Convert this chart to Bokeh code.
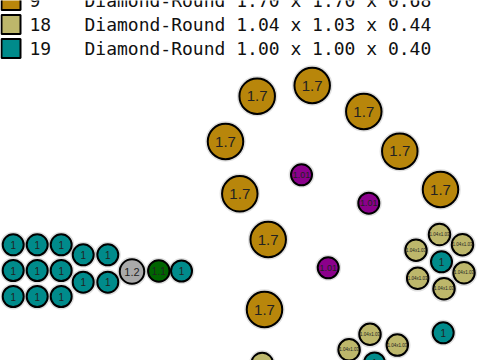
from bokeh.plotting import figure
from bokeh.models import Range1d, ColumnDataSource
from bokeh.core.properties import value
from bokeh.embed import file_html
from bokeh.resources import INLINE

# ---- legend data ----
legend_ids = ["9", "18", "19"]
legend_desc = ["Diamond-Round 1.70 x 1.70 x 0.68",
               "Diamond-Round 1.04 x 1.03 x 0.44",
               "Diamond-Round 1.00 x 1.00 x 0.40"]
legend_colors = ["#B8860B", "#BDB76B", "#008B8B"]

# ---- circle data (positions in layout pixels of the view) ----
teal_x = [12.7, 36.7, 60.7, 12.7, 36.7, 60.7, 12.7, 36.7, 60.7,
          82.7, 107.3, 82.7, 107.3, 181.0, 441.0, 442.7, 374.0]
teal_y = [244.3, 244.3, 244.3, 270.0, 270.0, 270.0, 296.0, 296.0, 296.0,
          254.3, 254.3, 281.7, 281.7, 270.5, 261.3, 332.3, 362.5]
teal_label = "1"

gold_x = [256.7, 311.7, 363.3, 225.0, 399.3, 239.3, 440.0, 267.7, 264.0]
gold_y = [95.7, 85.0, 111.0, 141.0, 150.7, 193.3, 189.0, 239.0, 309.0]
gold_label = "1.7"

magenta_x = [301.0, 368.3, 327.7]
magenta_y = [174.3, 202.7, 267.3]
magenta_label = "1.01"

khaki_x = [439.0, 462.0, 415.5, 463.5, 417.2, 443.5, 369.5, 396.8, 348.6, 261.7]
khaki_y = [234.0, 244.2, 249.7, 272.3, 277.8, 288.3, 333.8, 344.6, 349.3, 363.0]
khaki_label = "1.04x1.03"

gray_x = [131.5]
gray_y = [271.0]
gray_label = "1.2"

green_x = [158.3]
green_y = [270.5]
green_label = "1.1"

# group styles: (xs, ys, label, fill, size, font size)
groups = [
    (teal_x, teal_y, teal_label, "#008B8B", 21, "10px"),
    (gold_x, gold_y, gold_label, "#B8860B", 35.5, "15px"),
    (magenta_x, magenta_y, magenta_label, "#8B008B", 21, "9px"),
    (khaki_x, khaki_y, khaki_label, "#BDB76B", 21.5, "4.5px"),
    (gray_x, gray_y, gray_label, "#A9A9A9", 24.5, "11px"),
    (green_x, green_y, green_label, "#006400", 21.5, "10px"),
]

data = dict(x=[], y=[], label=[], fill=[], size=[], halo=[], fs=[])
for xs, ys, lab, fill, size, fs in groups:
    for x, y in zip(xs, ys):
        data["x"].append(x)
        data["y"].append(y)
        data["label"].append(lab)
        data["fill"].append(fill)
        data["size"].append(size)
        data["halo"].append(size + 2.5)
        data["fs"].append(fs)
src = ColumnDataSource(data)

p = figure(width=480, height=360, x_range=Range1d(0, 480), y_range=Range1d(360, 0),
           output_backend="svg", toolbar_location=None, min_border=0,
           x_axis_type=None, y_axis_type=None)
p.grid.visible = False
p.outline_line_color = None
p.background_fill_color = "white"
p.border_fill_color = "white"

# soft halo
p.scatter("x", "y", source=src, marker="circle", size="halo", fill_color=None,
          line_color="#000000", line_alpha=0.12, line_width=2.5)
# circles
p.scatter("x", "y", source=src, marker="circle", size="size", fill_color="fill",
          line_color="#000000", line_width=2)
p.text("x", "y", text="label", source=src, text_align="center", text_baseline="middle",
       text_font=value("Liberation Sans"), text_font_size="fs", text_color="#222222")

# legend
row_h = 24
leg = ColumnDataSource(dict(
    y=[i * row_h for i in range(len(legend_ids))],
    sx=[10.5] * len(legend_ids),
    idx=[29] * len(legend_ids),
    dx=[84] * len(legend_ids),
    ids=legend_ids, desc=legend_desc, color=legend_colors))
p.rect("sx", "y", width=19, height=19, source=leg, fill_color="color",
       line_color="#000000", line_width=2)
p.text("idx", "y", text="ids", source=leg, text_baseline="middle",
       text_font=value("DejaVu Sans Mono"), text_font_size="18px", text_color="#111111")
p.text("dx", "y", text="desc", source=leg, text_baseline="middle",
       text_font=value("DejaVu Sans Mono"), text_font_size="18px", text_color="#111111")

open("out.html", "w").write(file_html(p, INLINE))
